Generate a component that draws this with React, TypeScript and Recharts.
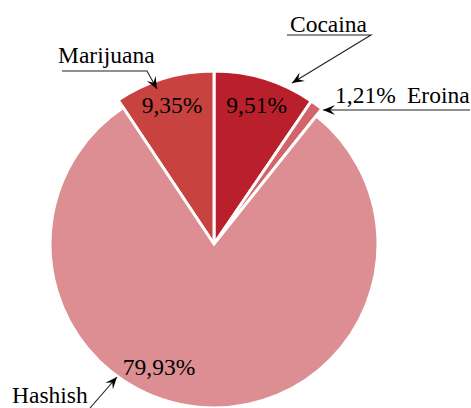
import React from "react";
import { PieChart, Pie, Cell } from "recharts";

const names = ["Cocaina", "Eroina", "Hashish", "Marijuana"];
const shares = [9.51, 1.21, 79.93, 9.35];
const shareLabels = ["9,51%", "1,21%", "79,93%", "9,35%"];
const colors = ["#B9202C", "#D2646A", "#DC8E93", "#C8423F"];

const data = names.map((name, i) => ({ name, value: shares[i] }));

const FONT = '"Liberation Serif", "Times New Roman", Times, serif';
const CX = 214;
const CY = 244;
const BIG_R = 173;
const SMALL_R = 164;

// callout layout, offsets from the pie centre
const callouts: Record<string, { text: [number, number]; path: [number, number][]; pct?: [number, number] }> = {
  Cocaina: { text: [76, -212], path: [[73, -209], [157, -209], [78, -161]] },
  Eroina: { text: [193, -141], pct: [121, -141], path: [[256, -134], [109, -134]] },
  Hashish: { text: [-202, 159], pct: [-55, 131], path: [[-124, 164], [-97, 133]] },
  Marijuana: { text: [-156, -181], path: [[-152, -173], [-67, -173], [-57, -155]] },
};

const RAD = Math.PI / 180;
const textStyle = { fontFamily: FONT, fontSize: 23.5, fill: "#000" };

function Arrow({ pts }: { pts: [number, number][] }) {
  const [x1, y1] = pts[pts.length - 2];
  const [x2, y2] = pts[pts.length - 1];
  const a = Math.atan2(y2 - y1, x2 - x1);
  const len = 12;
  const w = 5;
  const bx = x2 - len * Math.cos(a);
  const by = y2 - len * Math.sin(a);
  const nx = -Math.sin(a);
  const ny = Math.cos(a);
  const mx = x2 - len * 0.6 * Math.cos(a);
  const my = y2 - len * 0.6 * Math.sin(a);
  const d = pts.map((p, i) => `${i ? "L" : "M"}${p[0]},${p[1]}`).join(" ");
  return (
    <g>
      <path d={d} fill="none" stroke="#222" strokeWidth={1.1} />
      <path
        d={`M${x2},${y2} L${bx + nx * w},${by + ny * w} L${mx},${my} L${bx - nx * w},${by - ny * w} Z`}
        fill="#000"
      />
    </g>
  );
}

function renderLabel(props: any) {
  const { cx, cy, midAngle, index, name } = props;
  const c = callouts[name];
  const shift = (p: [number, number]): [number, number] => [cx + p[0], cy + p[1]];
  let pctPos: [number, number];
  if (c.pct) {
    pctPos = shift(c.pct);
  } else {
    const r = 145;
    pctPos = [cx + r * Math.cos(-midAngle * RAD), cy + r * Math.sin(-midAngle * RAD) + 8];
  }
  const t = shift(c.text);
  return (
    <g key={`lbl-${name}`}>
      <text
        x={pctPos[0]}
        y={pctPos[1]}
        textAnchor={name === "Eroina" ? "start" : "middle"}
        style={textStyle}
      >
        {shareLabels[index]}
      </text>
      <text x={t[0]} y={t[1]} style={textStyle}>
        {name}
      </text>
      <Arrow pts={c.path.map(shift)} />
    </g>
  );
}

export default function App() {
  return (
    <div style={{ position: "absolute", left: 0, top: 0, background: "#fff" }}>
      <PieChart width={471} height={408} margin={{ top: 0, right: 0, bottom: 0, left: 0 }}>
        <Pie
          data={data}
          dataKey="value"
          nameKey="name"
          cx={CX}
          cy={CY}
          outerRadius={BIG_R}
          startAngle={90}
          endAngle={-270}
          stroke="#fff"
          strokeWidth={3}
          isAnimationActive={false}
        >
          {data.map((d, i) => (
            <Cell
              key={d.name}
              fill={d.name === "Hashish" ? "none" : colors[i]}
              stroke={d.name === "Hashish" ? "none" : "#fff"}
            />
          ))}
        </Pie>
        <Pie
          data={data}
          dataKey="value"
          nameKey="name"
          cx={CX}
          cy={CY}
          outerRadius={SMALL_R}
          startAngle={90}
          endAngle={-270}
          stroke="#fff"
          strokeWidth={3}
          isAnimationActive={false}
          label={renderLabel}
          labelLine={false}
        >
          {data.map((d, i) => (
            <Cell
              key={d.name}
              fill={d.name === "Hashish" ? colors[i] : "none"}
              stroke={d.name === "Hashish" ? "#fff" : "none"}
            />
          ))}
        </Pie>
      </PieChart>
    </div>
  );
}
